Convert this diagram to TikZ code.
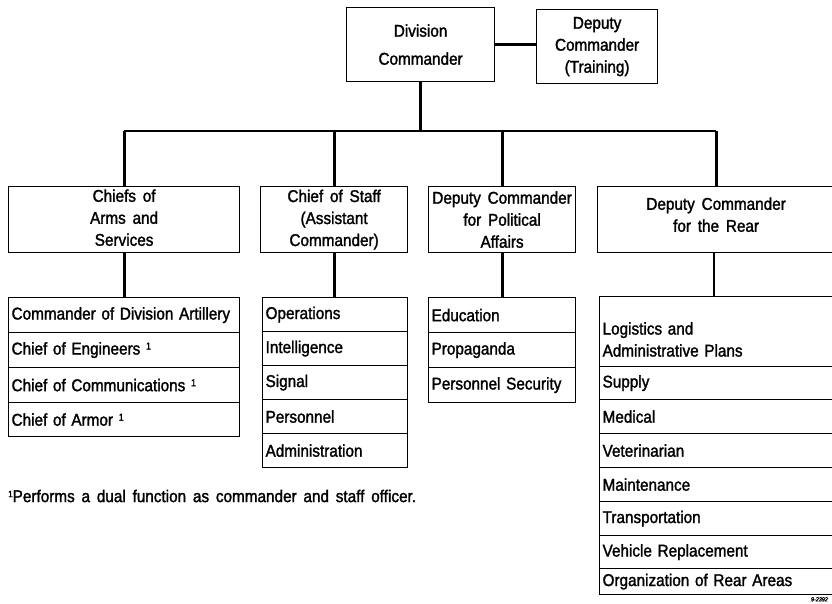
\documentclass[tikz,border=0pt]{standalone}
\usepackage{fontspec}
\setmainfont{Liberation Sans}[FakeStretch=0.9, WordSpace=1.6, FakeBold=1.6]
\begin{document}
\begin{tikzpicture}[x=1pt,y=-1pt,
  box/.style={draw, line width=1.2pt, inner sep=0pt, align=center, anchor=north west,
    font=\fontsize{17}{22}\selectfont},
  rowbox/.style={draw, line width=1.2pt, inner xsep=3pt, inner ysep=0pt, align=left,
    anchor=north west, font=\fontsize{17}{22}\selectfont},
  link/.style={line width=2.8pt}
]
\useasboundingbox (0,0) rectangle (832,603);

% top level
\node[box, minimum width=148pt, minimum height=74pt, font=\fontsize{17}{28}\selectfont] (div) at (346,7) {Division\\Commander};
\node[box, minimum width=121pt, minimum height=74pt] (dept) at (536,9) {Deputy\\Commander\\(Training)};
\draw[link] (div.east) -- (div.east -| dept.west);

% second level
\node[box, minimum width=231pt, minimum height=66pt] (arms) at (8,186) {Chiefs of\\Arms and\\Services\rule[-4pt]{0pt}{4pt}};
\node[box, minimum width=147pt, minimum height=66pt] (staff) at (260,186) {Chief of Staff\\(Assistant\\Commander)};
\node[box, minimum width=147pt, minimum height=66pt] (pol) at (428,186) {Deputy Commander\\for Political\\Affairs};
\node[box, minimum width=237pt, minimum height=66pt] (rear) at (597,186) {Deputy Commander\\for the Rear\rule[-10pt]{0pt}{10pt}};

\coordinate (bar) at (418,131);
\draw[link] (div.south) -- (div.south |- bar);
\draw[link] (arms.north |- bar) -- (rear.north |- bar);
\foreach \n in {arms,staff,pol,rear} \draw[link] (\n.north |- bar) -- (\n.north);

% arms rows
\node[rowbox, text width=225pt, minimum height=35pt] (a1) at (8,297) {Commander of Division Artillery};
\node[rowbox, text width=225pt, minimum height=35pt] (a2) at (8,332) {Chief of Engineers \raisebox{5pt}{\fontsize{10}{10}\selectfont 1}};
\node[rowbox, text width=225pt, minimum height=35pt] (a3) at (8,367) {Chief of Communications \raisebox{5pt}{\fontsize{10}{10}\selectfont 1}};
\node[rowbox, text width=225pt, minimum height=34pt] (a4) at (8,402) {Chief of Armor \raisebox{5pt}{\fontsize{10}{10}\selectfont 1}};
\draw[link] (arms.south) -- (arms.south |- a1.north);

% staff rows
\node[rowbox, text width=139pt, minimum height=34pt] (s1) at (262,297) {Operations};
\node[rowbox, text width=139pt, minimum height=34pt] (s2) at (262,331) {Intelligence};
\node[rowbox, text width=139pt, minimum height=34pt] (s3) at (262,365) {Signal};
\node[rowbox, text width=139pt, minimum height=34pt] (s4) at (262,399) {Personnel};
\node[rowbox, text width=139pt, minimum height=34pt] (s5) at (262,433) {Administration};
\draw[link] (staff.south) -- (staff.south |- s1.north);

% political rows
\node[rowbox, text width=141pt, minimum height=35pt] (p1) at (428,297) {Education};
\node[rowbox, text width=141pt, minimum height=35pt] (p2) at (428,332) {Propaganda};
\node[rowbox, text width=141pt, minimum height=35pt] (p3) at (428,367) {Personnel Security};
\draw[link] (pol.south) -- (pol.south |- p1.north);

% rear rows
\node[rowbox, text width=229pt, minimum height=70pt] (r1) at (599,296) {\\[6pt]Logistics and\\Administrative Plans};
\node[rowbox, text width=229pt, minimum height=33pt] (r2) at (599,366) {Supply};
\node[rowbox, text width=229pt, minimum height=34pt] (r3) at (599,399) {Medical};
\node[rowbox, text width=229pt, minimum height=34pt] (r4) at (599,433) {Veterinarian};
\node[rowbox, text width=229pt, minimum height=34pt] (r5) at (599,467) {Maintenance};
\node[rowbox, text width=229pt, minimum height=34pt] (r6) at (599,501) {Transportation};
\node[rowbox, text width=229pt, minimum height=33pt] (r7) at (599,535) {Vehicle Replacement};
\node[rowbox, text width=229pt, minimum height=26pt] (r8) at (599,568) {Organization of Rear Areas};
\draw[link] (rear.south -| 714,0) -- (714,296);

% footnote
\node[anchor=west, inner sep=0pt, font=\fontsize{17}{18}\selectfont] (note) at (8,496)
  {\raisebox{5pt}{\fontsize{9}{9}\selectfont 1}Performs a dual function as commander and staff officer.};

\node[anchor=north east, inner sep=0pt, font=\fontsize{6}{6}\selectfont\itshape] (code) at (828,597) {9-2392};
\end{tikzpicture}
\end{document}
